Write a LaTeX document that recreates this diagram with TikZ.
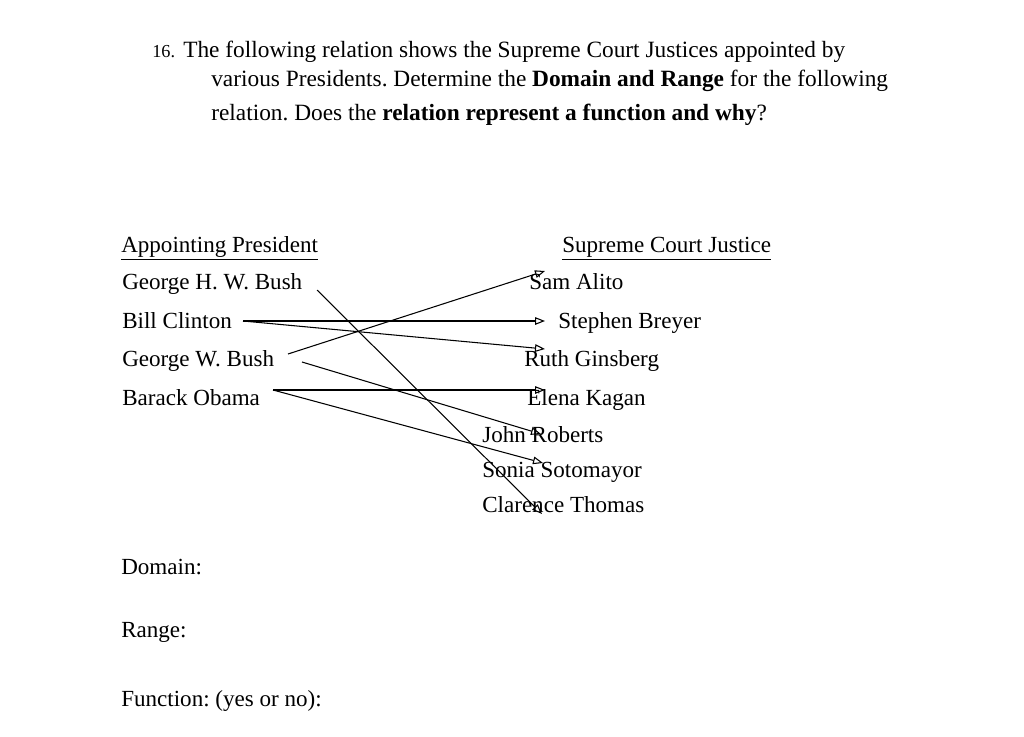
\documentclass[tikz,border=0pt]{standalone}
\usepackage{fontspec}
\setmainfont{Liberation Serif}
\usepackage{tikz}
\usetikzlibrary{arrows.meta}
\frenchspacing

\begin{document}
\begin{tikzpicture}[x=0.025cm,y=-0.025cm,
      txt/.style={anchor=base west,inner sep=0pt,font=\fontsize{16.4}{19}\selectfont},
      hdr/.style={anchor=base west,inner sep=0pt,font=\fontsize{16.6}{19}\selectfont},
      arr/.style={line width=0.75pt,-{Triangle[open,length=2.5mm,width=1.9mm]}}]
    \useasboundingbox (0,0) rectangle (1024,736);
    % question
    \node[hdr,font=\fontsize{13}{16}\selectfont] (num) at (152,58) {16.};
    \node[hdr] (q1) at (183,58) {The following relation shows the Supreme Court Justices appointed by};
    \node[hdr] (q2) at (211,86) {various Presidents. Determine the \textbf{Domain and Range} for the following};
    \node[hdr] (q3) at (211,120) {relation. Does the \textbf{relation represent a function and why}?};
    % columns
    \node[txt] (hpres) at (121,252) {\underline{Appointing President}};
    \node[txt] (hjust) at (562,252) {\underline{Supreme Court Justice}};
    \foreach \n/\t/\y in {ghwb/George H. W. Bush/289,clinton/Bill Clinton/328,gwb/George W. Bush/366,obama/Barack Obama/405}
      \node[txt] (\n) at (122,\y) {\t};
    \foreach \n/\t/\x/\y in {alito/Sam Alito/529/289,breyer/Stephen Breyer/558/328,ginsberg/Ruth Ginsberg/524/366,
        kagan/Elena Kagan/527/405,roberts/John Roberts/482/442,sotomayor/Sonia Sotomayor/482/477,thomas/Clarence Thomas/482/512}
      \node[txt] (\n) at (\x,\y) {\t};
    % line ends
    \coordinate (ghwbOut) at (317,290);
    \coordinate (clintonOut) at (243,321);
    \coordinate (gwbOutA) at (288,354);
    \coordinate (gwbOutB) at (302,362);
    \coordinate (obamaOut) at (273,390);
    \coordinate (alitoIn) at (545,271);
    \coordinate (breyerIn) at (545,321);
    \coordinate (ginsbergIn) at (545,349);
    \coordinate (kaganIn) at (545,390);
    \coordinate (robertsIn) at (541,434);
    \coordinate (sotomayorIn) at (543,463);
    \coordinate (thomasIn) at (542,514);
    \draw[arr] (ghwbOut) -- (thomasIn);
    \draw[arr] (clintonOut) -- (breyerIn);
    \draw[arr] (clintonOut) -- (ginsbergIn);
    \draw[arr] (gwbOutA) -- (alitoIn);
    \draw[arr] (gwbOutB) -- (robertsIn);
    \draw[arr] (obamaOut) -- (kaganIn);
    \draw[arr] (obamaOut) -- (sotomayorIn);
    % blanks
    \node[txt] (dom) at (121,574) {Domain:};
    \node[txt] (rng) at (121,637) {Range:};
    \node[txt] (fun) at (121,706) {Function: (yes or no):};
  \end{tikzpicture}
\end{document}
